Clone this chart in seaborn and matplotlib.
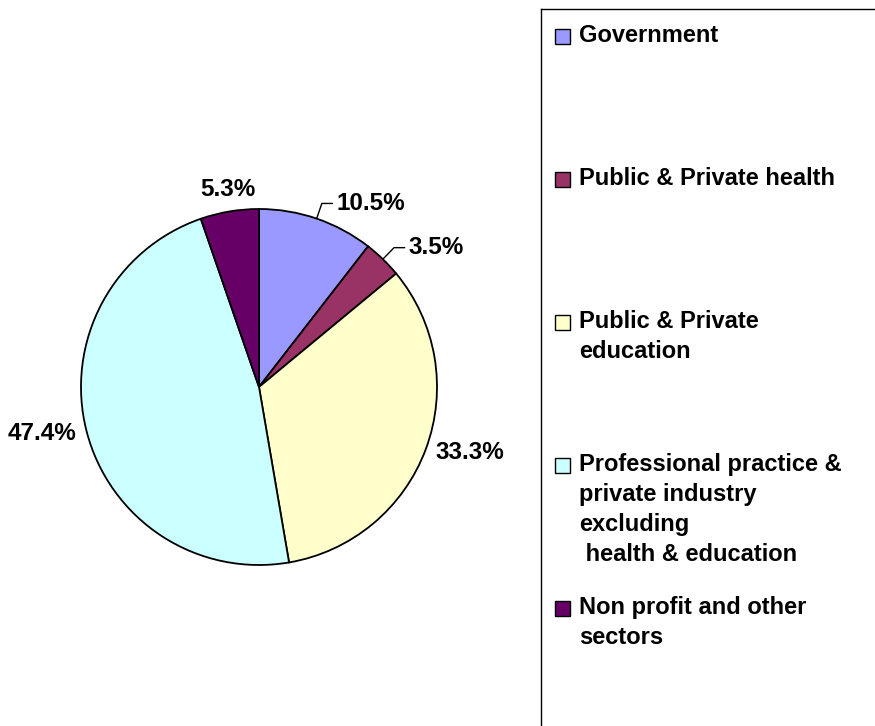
import numpy as np
import matplotlib
matplotlib.use("Agg")
import matplotlib.pyplot as plt
import seaborn as sns

sns.set_theme(style="white")
plt.rcParams['font.family'] = ['Liberation Sans', 'DejaVu Sans']
plt.rcParams['text.color'] = 'black'

# Dados do gráfico
sectors = ["Government", "Public & Private health", "Public & Private\neducation",
           "Professional practice &\nprivate industry\nexcluding\n health & education",
           "Non profit and other\nsectors"]
shares = [10.5, 3.5, 33.3, 47.4, 5.3]
pct_labels = ["10.5%", "3.5%", "33.3%", "47.4%", "5.3%"]
colors = ["#9999FF", "#993366", "#FFFFCC", "#CCFFFF", "#660066"]

W, H = 875, 726
fig = plt.figure(figsize=(W / 100, H / 100), dpi=100)

# Eixo da pizza: centro em (259, 387) px, raio 178 px
R = 178.0
cx, cy = 259, 387
ax_w, ax_h = 2 * cx, 600
ax = fig.add_axes([0, (H - cy - ax_h / 2) / H, ax_w / W, ax_h / H])
wedges, _ = ax.pie(shares, colors=colors, startangle=90, counterclock=False,
                   wedgeprops=dict(edgecolor="black", linewidth=1.3))
ax.set_xlim(-cx / R, cx / R)
ax.set_ylim(-ax_h / 2 / R, ax_h / 2 / R)
ax.set_aspect("auto")
ax.axis("off")

# Rótulos de porcentagem
for w, txt, val in zip(wedges, pct_labels, shares):
    ang = np.deg2rad((w.theta1 + w.theta2) / 2)
    c, s = np.cos(ang), np.sin(ang)
    if val < 12 and c > 0.3:
        # rótulo com linha de chamada
        r1 = 1.09
        x1, y1 = r1 * c, r1 * s
        ax.plot([c, x1, x1 + 0.06], [s, y1, y1], color="black", lw=1)
        ax.text(x1 + 0.08, y1, txt, ha="left", va="center",
                fontsize=17.5, fontweight="bold")
    else:
        r = 1.06
        ha = "left" if c > 0.3 else ("right" if c < -0.3 else "center")
        va = "bottom" if s > 0.5 else ("top" if s < -0.5 else "center")
        ax.text(r * c, r * s, txt, ha=ha, va=va, fontsize=17.5, fontweight="bold")

# Legenda desenhada manualmente com espaçamento uniforme
lx, ltop = 541, 9
lax = fig.add_axes([lx / W, -0.02, 0.5, (H - ltop) / H + 0.02])
lax.set_xlim(lx, lx + 0.5 * W)
lax.set_ylim(H * 1.02, ltop)
lax.set_xticks([])
lax.set_yticks([])
for sp in lax.spines.values():
    sp.set_color("black")
    sp.set_linewidth(1)

first_y, step = 37, 143
for i, (lab, col) in enumerate(zip(sectors, colors)):
    yc = first_y + i * step
    lax.add_patch(plt.Rectangle((555, yc - 7.5), 15, 15, facecolor=col,
                                edgecolor="black", linewidth=1))
    lax.text(579, yc - 13, lab, ha="left", va="top", fontsize=17,
             fontweight="bold", linespacing=1.38)

fig.savefig("out.png", dpi=100, facecolor="white")
